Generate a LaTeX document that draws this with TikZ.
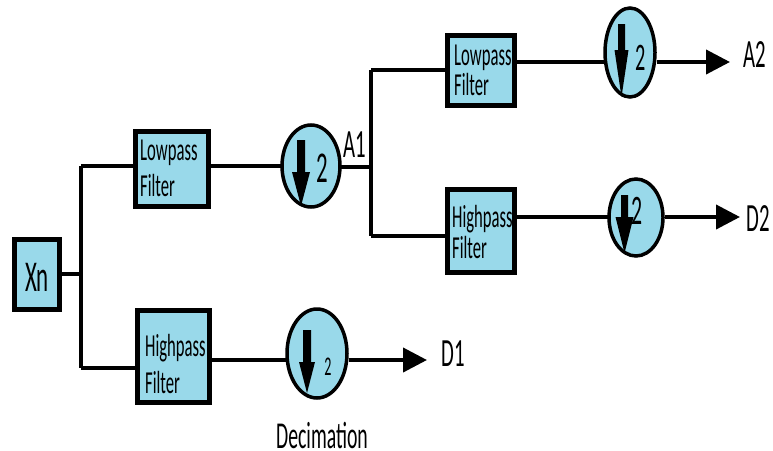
\documentclass[tikz,border=0pt]{standalone}
\usepackage{fontspec}
\setmainfont[FakeStretch=0.52]{Carlito}
\usetikzlibrary{shapes.geometric,arrows.meta,backgrounds}
\definecolor{fb}{HTML}{99D9EA}
\newcommand{\fs}[1]{\fontsize{#1}{#1}\selectfont}
\tikzset{
  box/.style={draw=black,fill=fb,line width=5pt,inner sep=0pt},
  dec/.style={ellipse,draw=black,fill=fb,line width=3.5pt,inner sep=0pt},
  wire/.style={line width=4pt},
  outarrow/.style={line width=4pt,-{Triangle[length=24pt,width=24pt]}},
  lbl/.style={inner sep=0pt,text=black},
  boxtxt/.style={inner sep=0pt,anchor=west,text=black,align=left},
}
\begin{document}
\begin{tikzpicture}[x=1pt,y=-1pt]
\useasboundingbox (0,0) rectangle (773,450);
% boxes
\node[box,minimum width=45pt,minimum height=70pt] (xn) at (37,274.5) {};
\node[lbl] (xnt) at (37,277) {\fs{44}Xn};
\node[box,minimum width=73pt,minimum height=75pt] (lp1) at (172,169) {};
\node[boxtxt] (lp1a) at (140,153) {\fs{32}Lowpass};
\node[boxtxt] (lp1b) at (140,186) {\fs{32}Filter};
\node[box,minimum width=72pt,minimum height=92pt] (hp1) at (173.5,356.5) {};
\node[boxtxt] (hp1a) at (145,348) {\fs{32}Highpass};
\node[boxtxt] (hp1b) at (145,383) {\fs{32}Filter};
\node[box,minimum width=67pt,minimum height=70pt] (lp2) at (481,70.5) {};
\node[boxtxt] (lp2a) at (454,58) {\fs{32}Lowpass};
\node[boxtxt] (lp2b) at (454,85) {\fs{32}Filter};
\node[box,minimum width=67pt,minimum height=83pt] (hp2) at (481,231) {};
\node[boxtxt] (hp2a) at (452,219) {\fs{32}Highpass};
\node[boxtxt] (hp2b) at (452,248) {\fs{32}Filter};
% decimators
\node[dec,minimum width=58pt,minimum height=82pt] (c1) at (311,166) {};
\node[dec,minimum width=50pt,minimum height=89pt] (c2) at (630,52.5) {};
\node[dec,minimum width=54pt,minimum height=77pt] (c3) at (636,217.5) {};
\node[dec,minimum width=60pt,minimum height=89pt] (c4) at (317,353.5) {};
% down arrows
\fill (297,140) -- (305,140) -- (305,172) -- (310,172) -- (301,206) -- (292,172) -- (297,172) -- cycle;
\fill (618,24) -- (625,24) -- (625,50) -- (628.5,50) -- (621.5,97) -- (614.5,50) -- (618,50) -- cycle;
\fill (621,195) -- (628,195) -- (628,217) -- (633.5,217) -- (624.5,253) -- (615.5,217) -- (621,217) -- cycle;
\fill (303,330) -- (311,330) -- (311,362) -- (315,362) -- (307,393) -- (299,362) -- (303,362) -- cycle;
\node[lbl] (n1) at (322,168) {\fs{44}2};
\node[lbl] (n2) at (641,58) {\fs{39}2};
\node[lbl] (n3) at (637,211) {\fs{42}2};
\node[lbl] (n4) at (328,367) {\fs{27}2};
% labels
\node[lbl] (a1) at (355,145) {\fs{40}A1};
\node[lbl] (a2) at (755,55) {\fs{40}A2};
\node[lbl] (d2) at (758,219) {\fs{40}D2};
\node[lbl] (d1) at (453,354) {\fs{40}D1};
\node[lbl] (decl) at (322,435) {\fs{38}Decimation};
% junction points
\coordinate (j1) at (81,274);
\coordinate (j1t) at (81,166);
\coordinate (j1b) at (81,368);
\coordinate (j2) at (371,167);
\coordinate (j2t) at (371,70);
\coordinate (j2b) at (371,236);
\coordinate (t2) at (730,62);
\coordinate (t3) at (740,217);
\coordinate (t4) at (427,360);
\begin{scope}[on background layer]
\draw[wire] (xn.center |- j1) -- (j1);
\draw[wire] (j1t) -- (j1b);
\draw[wire] (j1t) -- (lp1.center |- j1t);
\draw[wire] (j1b) -- (hp1.center |- j1b);
\draw[wire] (lp1.center |- j1t) -- (c1.center |- j1t);
\draw[wire] (c1.center |- j2) -- (j2);
\draw[wire] (j2t) -- (j2b);
\draw[wire] (j2t) -- (lp2.center |- j2t);
\draw[wire] (j2b) -- (hp2.center |- j2b);
\draw[wire] (lp2.center |- t2) -- (c2.center |- t2);
\draw[wire] (hp2.center |- t3) -- (c3.center |- t3);
\draw[wire] (hp1.center |- t4) -- (c4.center |- t4);
\end{scope}
\draw[outarrow] (c2.east |- t2) -- (t2);
\draw[outarrow] (c3.east |- t3) -- (t3);
\draw[outarrow] (c4.east |- t4) -- (t4);
\end{tikzpicture}
\end{document}
